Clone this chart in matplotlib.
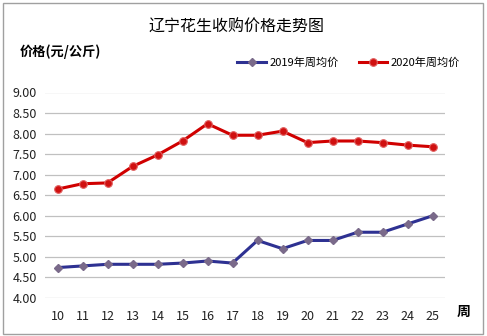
import matplotlib.pyplot as plt
from matplotlib.patches import Rectangle

plt.rcParams['font.family'] = ['Noto Sans CJK SC', 'DejaVu Sans']

weeks = ['10', '11', '12', '13', '14', '15', '16', '17',
         '18', '19', '20', '21', '22', '23', '24', '25']
price_2019 = [4.74, 4.78, 4.82, 4.82, 4.82, 4.85, 4.90, 4.85,
              5.40, 5.20, 5.40, 5.40, 5.60, 5.60, 5.80, 6.00]
price_2020 = [6.65, 6.78, 6.80, 7.20, 7.48, 7.82, 8.24, 7.96,
              7.96, 8.06, 7.78, 7.82, 7.82, 7.78, 7.72, 7.68]
y_ticks = [4.0, 4.5, 5.0, 5.5, 6.0, 6.5, 7.0, 7.5, 8.0, 8.5, 9.0]

fig = plt.figure(figsize=(4.87, 3.36), dpi=100)
ax = fig.add_axes([45 / 487, 1 - 298 / 336, 400 / 487, 205.5 / 336])

x = range(len(weeks))
ax.plot(x, price_2019, color='#2e3192', lw=2.2, marker='D', ms=4.5,
        mfc='#7a6a8a', mec='#7a6a8a', label='2019年周均价', zorder=3)
ax.plot(x, price_2020, color='#d00000', lw=2.2, marker='o', ms=5.5,
        mfc='#d01010', mec='#e06060', mew=0.8, label='2020年周均价', zorder=3)

ax.set_xlim(-0.5, len(weeks) - 0.5)
ax.set_ylim(4.0, 9.0)
ax.set_yticks(y_ticks)
ax.set_yticklabels([f'{v:.2f}' for v in y_ticks])
ax.set_xticks(list(x))
ax.set_xticklabels(weeks)
ax.grid(axis='y', color='#c0c0c0', lw=0.9)
ax.set_axisbelow(True)
for s in ax.spines.values():
    s.set_visible(False)
ax.tick_params(length=0, labelsize=9, colors='#222222', pad=6)
ax.tick_params(axis='x', pad=9)

fig.text(0.485, 1 - 27 / 336, '辽宁花生收购价格走势图', ha='center', va='center', fontsize=11.5)
fig.text(20 / 487, 1 - 52 / 336, '价格(元/公斤)', ha='left', va='center',
         fontsize=9.5, fontweight='bold')
fig.text(464 / 487, 1 - 312 / 336, '周', ha='center', va='center',
         fontsize=10, fontweight='bold')

ax.legend(loc='lower right', bbox_to_anchor=(470 / 487, 1 - 78 / 336),
          bbox_transform=fig.transFigure, ncol=2, frameon=False, fontsize=8,
          handlelength=2.6, columnspacing=1.8, handletextpad=0.3)

fig.add_artist(Rectangle((3 / 487, 2 / 336), 480 / 487, 331 / 336,
                         transform=fig.transFigure, fill=False,
                         ec='#a0a0a0', lw=1))

fig.savefig('out.png', dpi=100)
